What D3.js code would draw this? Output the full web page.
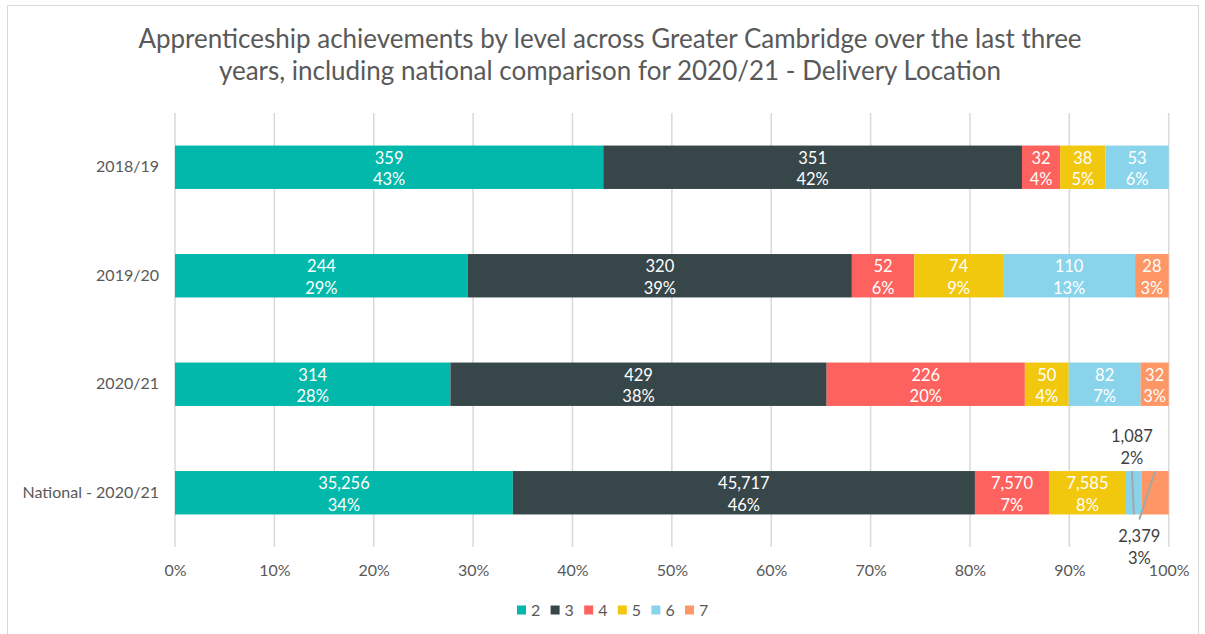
<!DOCTYPE html>
<html><head><meta charset="utf-8">
<script src="https://cdn.jsdelivr.net/npm/d3@7"></script>
<style>body{margin:0;background:#fff}svg{display:block}text{font-family:Lato,"Open Sans",sans-serif}</style>
</head><body>
<svg id="c" width="1205" height="634"></svg>
<script>
const categories = ["2018/19", "2019/20", "2020/21", "National - 2020/21"];
const levels = ["2", "3", "4", "5", "6", "7"];
const colors = ["#01B8AA", "#374649", "#FD625E", "#F2C80F", "#8AD4EB", "#FE9666"];
// achievement counts per level
const counts1819 = [359, 351, 32, 38, 53, 0];
const counts1920 = [244, 320, 52, 74, 110, 28];
const counts2021 = [314, 429, 226, 50, 82, 32];
const countsNational = [35256, 45717, 7570, 7585, 1087, 2379];
// national bar shares (%) as drawn, and its printed percentage labels
const sharesNational = [34.0, 46.5, 7.45, 7.75, 1.6, 2.7];
const pctLabelsNational = [34, 46, 7, 8, 2, 3];
const ticks = [0, 10, 20, 30, 40, 50, 60, 70, 80, 90, 100];
const title = ["Apprenticeship achievements by level across Greater Cambridge over the last three",
               "years, including national comparison for 2020/21 - Delivery Location"];

const toShares = c => { const t = d3.sum(c); return c.map(v => v / t * 100); };
const rows = [
  {cat: categories[0], counts: counts1819, shares: toShares(counts1819)},
  {cat: categories[1], counts: counts1920, shares: toShares(counts1920)},
  {cat: categories[2], counts: counts2021, shares: toShares(counts2021)},
  {cat: categories[3], counts: countsNational, shares: sharesNational, pcts: pctLabelsNational}
];
rows.forEach(r => { if (!r.pcts) r.pcts = r.shares.map(s => Math.round(s)); });

const svg = d3.select("#c");
const grey = "#595959";
svg.append("rect").attr("x", 7.5).attr("y", 5.5).attr("width", 1191).attr("height", 640)
  .attr("fill", "#fff").attr("stroke", "#d9d9d9");

svg.append("g").selectAll("text").data(title).join("text")
  .attr("x", 610).attr("y", (d, i) => 48 + i * 32).attr("text-anchor", "middle")
  .attr("font-size", 26).attr("fill", grey).text(d => d);

const x = d3.scaleLinear().domain([0, 100]).range([175, 1168.7]);
const y = d3.scaleBand().domain(categories).range([113, 547]).paddingInner(0.6).paddingOuter(0.3);

// gridlines
svg.append("g").selectAll("line").data(ticks).join("line")
  .attr("x1", d => x(d)).attr("x2", d => x(d)).attr("y1", 113).attr("y2", 547)
  .attr("stroke", "#d9d9d9").attr("stroke-width", 1.5);

const xAxis = svg.append("g").attr("transform", "translate(0,547)")
  .call(d3.axisBottom(x).tickValues(ticks).tickFormat(d => d + "%").tickSize(0).tickPadding(18));
xAxis.select(".domain").remove();
xAxis.selectAll("text").attr("font-size", 16).attr("fill", grey).attr("font-family", "Lato");

const yAxis = svg.append("g").attr("transform", "translate(175,0)")
  .call(d3.axisLeft(y).tickSize(0).tickPadding(16));
yAxis.select(".domain").remove();
yAxis.selectAll("text").attr("font-size", 16).attr("fill", grey).attr("font-family", "Lato");

const segs = [];
rows.forEach(r => {
  let acc = 0;
  r.shares.forEach((s, i) => {
    segs.push({cat: r.cat, i, x0: acc, x1: acc + s, count: r.counts[i], pct: r.pcts[i]});
    acc += s;
  });
});

svg.append("g").selectAll("rect").data(segs.filter(d => d.count > 0)).join("rect")
  .attr("x", d => x(d.x0)).attr("width", d => x(d.x1) - x(d.x0))
  .attr("y", d => y(d.cat)).attr("height", y.bandwidth())
  .attr("fill", d => colors[d.i]);

const fmt = d3.format(",");
const inside = segs.filter(d => d.count > 0 && !(d.cat === categories[3] && d.i >= 4));
const lab = svg.append("g").selectAll("g").data(inside).join("g")
  .attr("transform", d => `translate(${(x(d.x0) + x(d.x1)) / 2},${y(d.cat) + y.bandwidth() / 2})`);
lab.append("text").attr("y", -9.5).attr("dy", "0.35em").attr("text-anchor", "middle")
  .attr("font-size", 16.5).attr("fill", "#fff").text(d => fmt(d.count));
lab.append("text").attr("y", 12).attr("dy", "0.35em").attr("text-anchor", "middle")
  .attr("font-size", 16.5).attr("fill", "#fff").text(d => d.pct + "%");

// outside labels for national levels 6 and 7 with leader lines
const nat = segs.filter(d => d.cat === categories[3] && d.i >= 4);
const by = y(categories[3]), bh = y.bandwidth();
const outPos = [{dx: -2, ty: by - 35}, {dx: 0, ty: by + bh + 22}];
const outG = svg.append("g");
nat.forEach((d, k) => {
  const cx = (x(d.x0) + x(d.x1)) / 2;
  const lx = cx + outPos[k].dx + (k === 1 ? -16 : 0);
  const g = outG.append("g");
  g.append("text").attr("x", lx).attr("y", outPos[k].ty).attr("dy", "0.35em").attr("text-anchor", "middle")
    .attr("font-size", 16.5).attr("fill", "#404040").text(fmt(d.count));
  g.append("text").attr("x", lx).attr("y", outPos[k].ty + 22).attr("dy", "0.35em").attr("text-anchor", "middle")
    .attr("font-size", 16.5).attr("fill", "#404040").text(d.pct + "%");
});
// leader lines
const n6 = nat[0], n7 = nat[1];
outG.append("line").attr("x1", (x(n6.x0) + x(n6.x1)) / 2 - 2).attr("y1", by)
  .attr("x2", (x(n6.x0) + x(n6.x1)) / 2).attr("y2", by + bh)
  .attr("stroke", "#a6a6a6").attr("stroke-width", 2);
outG.append("line").attr("x1", (x(n7.x0) + x(n7.x1)) / 2).attr("y1", by)
  .attr("x2", (x(n7.x0) + x(n7.x1)) / 2 - 16).attr("y2", by + bh + 5)
  .attr("stroke", "#a6a6a6").attr("stroke-width", 2);

// legend
const lg = svg.append("g").attr("transform", "translate(517,610)");
const li = lg.selectAll("g").data(levels).join("g").attr("transform", (d, i) => `translate(${i * 33.6},0)`);
li.append("rect").attr("x", 0).attr("y", -4.5).attr("width", 9).attr("height", 9).attr("fill", (d, i) => colors[i]);
li.append("text").attr("x", 14).attr("dy", "0.35em").attr("font-size", 16).attr("fill", grey).text(d => d);
</script>
</body></html>
